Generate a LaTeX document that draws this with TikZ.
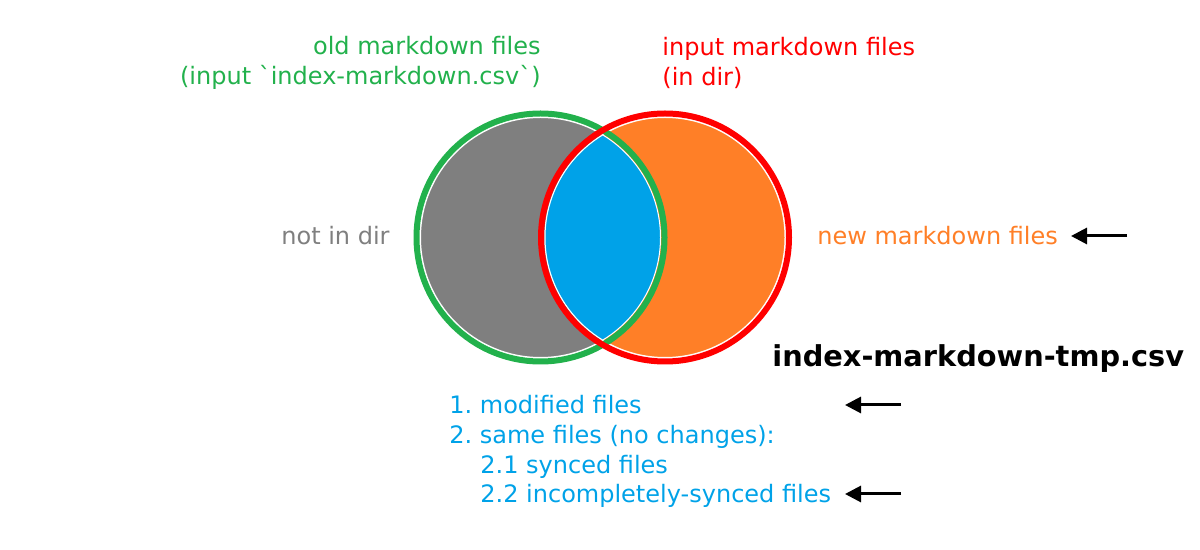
\documentclass[tikz,border=0pt]{standalone}
\usepackage{fontspec}
\setmainfont{DejaVu Sans}[Ligatures=TeXOff]
\usepackage{tikz}
\usetikzlibrary{arrows.meta}
\usetikzlibrary{positioning}

\definecolor{oldgreen}{HTML}{22B14C}
\definecolor{newred}{HTML}{FF0000}
\definecolor{setgray}{HTML}{7F7F7F}
\definecolor{setorange}{HTML}{FF7F27}
\definecolor{setblue}{HTML}{00A2E8}

\tikzset{
	txt/.style={inner sep=0pt, font=\fontsize{12}{14.9}\selectfont},
	ring/.style={line width=3pt},
	arr/.style={line width=1.5pt, -{Triangle[length=8pt,width=8pt]}}
}

\begin{document}
\frenchspacing
\begin{tikzpicture}[x=0.5pt,y=-0.5pt]
			\useasboundingbox (0,0) rectangle (1200,550);

			% the two sets
			\coordinate (L) at (540.5,237.5);
			\coordinate (R) at (665,237.5);
			\fill[setgray, draw=white, line width=0.5pt] (L) circle (60pt);
			\fill[setorange, draw=white, line width=0.5pt] (R) circle (60pt);
			\begin{scope}
				\clip (L) circle (60pt);
				\fill[setblue, draw=white, line width=0.5pt] (R) circle (60pt);
			\end{scope}
			\begin{scope}
				\clip (R) circle (60pt);
				\draw[white, line width=0.5pt] (L) circle (60pt);
			\end{scope}
			\draw[ring, oldgreen] (L) circle (62pt);
			\draw[ring, newred] (R) circle (62pt);

			\node[txt, text=oldgreen, align=right, anchor=east] (old) at (541,63)
				{old markdown files\\(input `index-markdown.csv`)};
			\node[txt, text=newred, align=left, anchor=west] (inp) at (662,63)
				{input markdown files\\(in dir)};
			\node[txt, text=setgray, anchor=east] (notin) at (390,236) {not in dir};
			\node[txt, text=setorange, anchor=west] (new) at (817,236) {new markdown files};
			\node[inner sep=0pt, anchor=west, font=\fontsize{14.4}{17}\selectfont\bfseries] (tmp) at (772,359)
				{index-markdown-tmp.csv};
			\node[txt, text=setblue, align=left, anchor=west] (list) at (449,451.5)
				{1. modified files\\2. same files (no changes):\\
				\hspace*{15.5pt}2.1 synced files\\\hspace*{15.5pt}2.2 incompletely-synced files};

			\coordinate (n1) at (1127,236);
			\coordinate (n2) at (1071,236);
			\coordinate (m1) at (901,405);
			\coordinate (m2) at (845,405);
			\coordinate (s1) at (901,494);
			\coordinate (s2) at (845,494);
			\draw[arr] (n1) -- (n2);
			\draw[arr] (m1) -- (m2);
			\draw[arr] (s1) -- (s2);
		\end{tikzpicture}
\end{document}
